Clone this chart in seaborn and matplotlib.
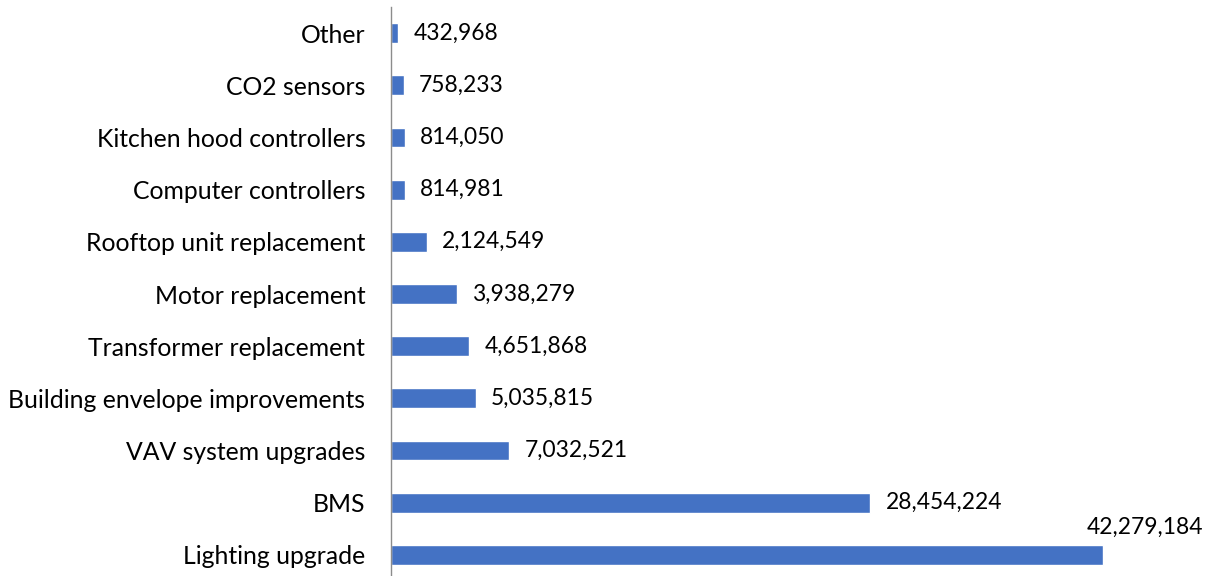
import matplotlib
matplotlib.use("Agg")
import matplotlib.pyplot as plt
import seaborn as sns
import pandas as pd

categories = [
    "Other",
    "CO2 sensors",
    "Kitchen hood controllers",
    "Computer controllers",
    "Rooftop unit replacement",
    "Motor replacement",
    "Transformer replacement",
    "Building envelope improvements",
    "VAV system upgrades",
    "BMS",
    "Lighting upgrade",
]
values = [
    432968,
    758233,
    814050,
    814981,
    2124549,
    3938279,
    4651868,
    5035815,
    7032521,
    28454224,
    42279184,
]

df = pd.DataFrame({"category": categories, "value": values})

sns.set_theme(style="white")
plt.rcParams["font.family"] = ["Lato", "DejaVu Sans"]

fig = plt.figure(figsize=(12.12, 5.76), dpi=100)
ax = fig.add_axes([391 / 1212, -5 / 576, 758 / 1212, 574 / 576])

sns.barplot(data=df, x="value", y="category", orient="h", color="#4472C4",
            saturation=1, width=0.38, ax=ax)

ax.set_xlim(0, 45_000_000)
ax.set_ylim(len(categories) - 0.5, -0.5)
ax.set_xlabel("")
ax.set_ylabel("")
ax.set_xticks([])
ax.tick_params(axis="y", length=0, pad=18.5, labelsize=17.8, labelcolor="#000000")

for side in ["top", "right", "bottom"]:
    ax.spines[side].set_visible(False)
ax.spines["left"].set_color("#8C8C8C")
ax.spines["left"].set_linewidth(1.0)

# value labels at the end of each bar; the longest bar gets its label above
for i, v in enumerate(values):
    text = f"{v:,}"
    if i == len(values) - 1:
        ax.annotate(text, xy=(v, i), xytext=(72, 20), textcoords="offset points",
                    ha="right", va="center", fontsize=16.4, color="#000000",
                    annotation_clip=False)
    else:
        ax.annotate(text, xy=(v, i), xytext=(11, 0), textcoords="offset points",
                    ha="left", va="center", fontsize=16.4, color="#000000",
                    annotation_clip=False)

fig.savefig("out.png", dpi=100)
